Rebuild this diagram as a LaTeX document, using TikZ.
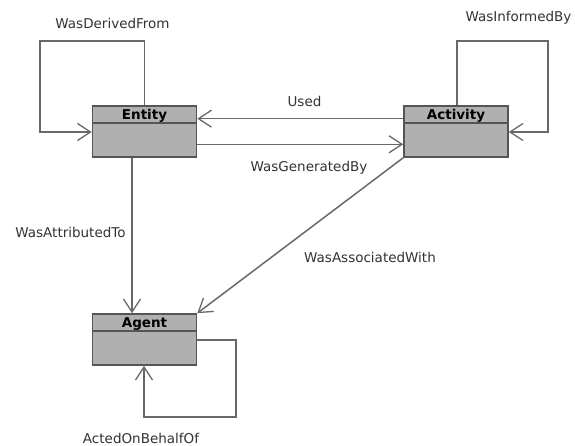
\documentclass[tikz,border=0pt]{standalone}
\usepackage{fontspec}
\setmainfont{DejaVu Sans}
\usetikzlibrary{arrows.meta}
\definecolor{boxfill}{RGB}{176,176,176}
\definecolor{boxline}{RGB}{85,85,85}
\definecolor{edgeline}{RGB}{105,105,105}
\begin{document}
\begin{tikzpicture}[x=1pt,y=-1pt,
  classbox/.style={draw=boxline,fill=boxfill,line width=1.6pt,minimum width=104pt,minimum height=51pt,inner sep=0pt},
  title/.style={font=\fontsize{13.5}{14}\selectfont\bfseries,inner sep=0pt,anchor=base},
  lbl/.style={font=\fontsize{13.5}{14}\selectfont,text=black!80,inner sep=0pt,anchor=base},
  rel/.style={draw=edgeline,line width=1.5pt,-{Straight Barb[length=13pt,width=17pt,line width=1.3pt]}},
  plain/.style={draw=edgeline,line width=1.5pt}]
\useasboundingbox (0,0) rectangle (575,446);
\fill[white] (0,0) rectangle (575,446);

% class boxes
\node[classbox] (entity) at (144.5,131.5) {};
\node[classbox] (activity) at (456,131.5) {};
\node[classbox] (agent) at (144.5,339.5) {};
\foreach \b in {entity,activity,agent}{
  \draw[boxline,line width=1.6pt] ([yshift=-18pt]\b.north west) -- ([yshift=-18pt]\b.north east);
}
\node[title] (entityT) at ([yshift=-14pt]entity.north) {Entity};
\node[title] (activityT) at ([yshift=-14pt]activity.north) {Activity};
\node[title] (agentT) at ([yshift=-14pt]agent.north) {Agent};

% loop corners
\coordinate (d1) at (144.5,41);
\coordinate (d2) at (40,41);
\coordinate (d3) at (40,132);
\coordinate (i1) at (457,41);
\coordinate (i2) at (548,41);
\coordinate (i3) at (548,132);
\coordinate (a1) at (236,340);
\coordinate (a2) at (236,417);
\coordinate (a3) at (144,417);

% connectors
\draw[rel] (entity.north) -- (d1) -- (d2) -- (d3) -- (d3 -| entity.west);
\draw[rel] (activity.north -| i1) -- (i1) -- (i2) -- (i3) -- (i3 -| activity.east);
\draw[rel] ([yshift=-13.5pt]activity.north west) -- ([yshift=-13.5pt]entity.north east);
\draw[rel] ([yshift=13.5pt]entity.south east) -- ([yshift=13.5pt]activity.south west);
\draw[rel] (entity.south -| 132,0) -- (agent.north -| 132,0);
\draw[rel] (activity.south west) -- (agent.north east);
\draw[rel] (agent.east |- a1) -- (a1) -- (a2) -- (a3) -- (agent.south -| a3);

% labels
\node[lbl] (lDerived) at (112.5,29) {WasDerivedFrom};
\node[lbl] (lInformed) at (518.5,22) {WasInformedBy};
\node[lbl] (lUsed) at (304.5,107) {Used};
\node[lbl] (lGen) at (309,172) {WasGeneratedBy};
\node[lbl] (lAttr) at (70.5,237) {WasAttributedTo};
\node[lbl] (lAssoc) at (370,262) {WasAssociatedWith};
\node[lbl] (lActed) at (141,443) {ActedOnBehalfOf};
\end{tikzpicture}
\end{document}
